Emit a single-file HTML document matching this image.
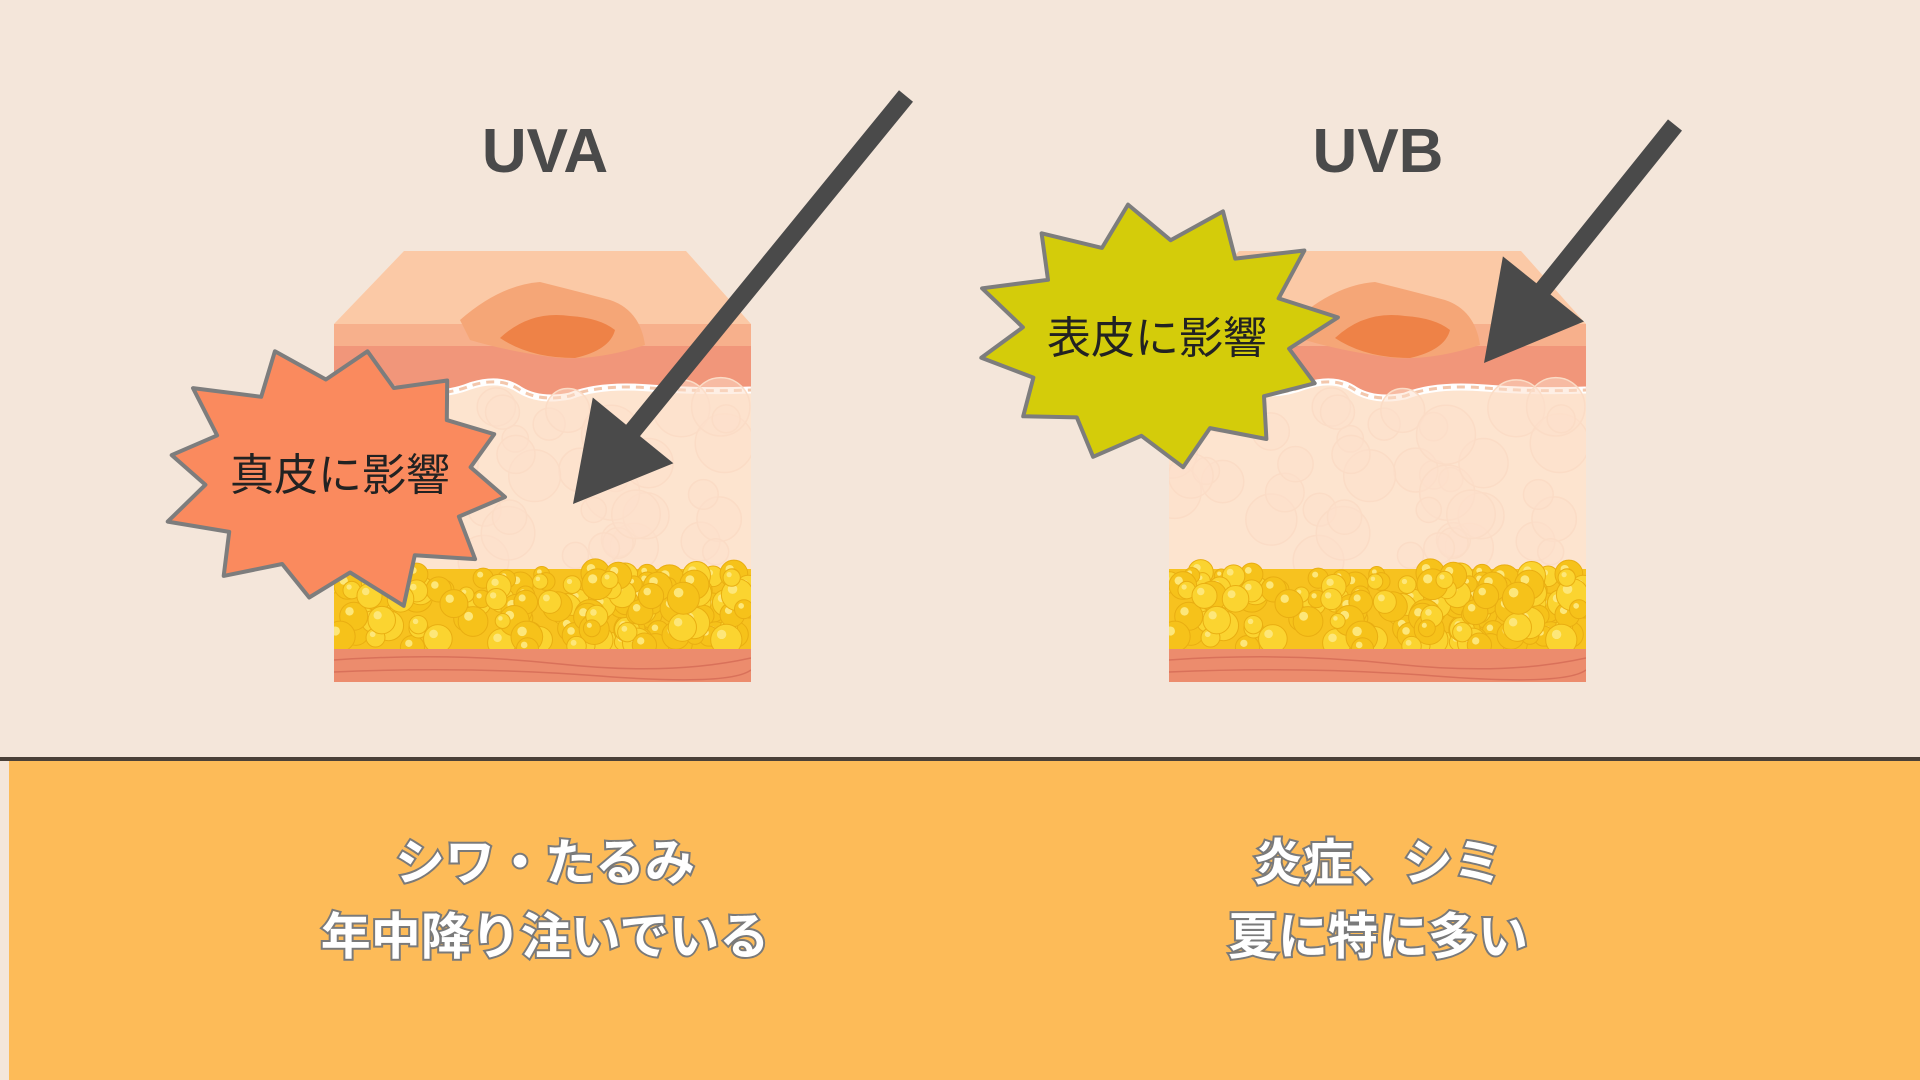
<!DOCTYPE html>
<html><head><meta charset="utf-8"><style>
html,body{margin:0;padding:0;background:#f4e6da;}
svg{display:block}
</style></head><body>
<svg id="s" width="1920" height="1080" viewBox="0 0 1920 1080" xmlns="http://www.w3.org/2000/svg">
<defs>
<clipPath id="bc"><path d="M404 251 L686 251 L751 324 L751 682 L334 682 L334 324 Z"/></clipPath>
<g id="block">
 <g clip-path="url(#bc)">
  <rect x="334" y="251" width="417" height="431" fill="#fde4cf"/>
  <path d="M334 251 H751 V326 H334Z" fill="#fbc9a6"/>
  <path d="M334 324 H751 V346 H334Z" fill="#f7b08c"/>
  <path d="M334 346 H751 V390 Q700 392 650 388 Q600 384 570 396 Q540 402 520 390 Q500 376 470 386 Q440 398 400 390 Q370 384 334 388Z" fill="#f1967a"/>
  <path d="M334 388 Q370 384 400 390 Q440 398 470 386 Q500 376 520 390 Q540 402 570 396 Q600 384 650 388 Q700 392 751 390" fill="none" stroke="#fff" stroke-width="7"/>
  <path d="M334 388 Q370 384 400 390 Q440 398 470 386 Q500 376 520 390 Q540 402 570 396 Q600 384 650 388 Q700 392 751 390" fill="none" stroke="#f3c7ac" stroke-width="3" stroke-dasharray="8 6"/>
  <path d="M460 320 Q500 285 540 282 Q580 292 610 300 Q640 310 645 345 Q600 360 560 358 Q510 352 470 340Z" fill="#f5a677"/>
  <path d="M500 338 Q530 310 570 316 Q600 318 615 330 Q610 350 575 358 Q530 358 500 338Z" fill="#ee8247"/>
  <g id="cells" fill="#fde0cb" fill-opacity="0.5" stroke="#fbdcc6" stroke-width="1.5"></g>
  <rect x="334" y="569" width="417" height="80" fill="#f7c21f"/>
  <g id="fat"></g>
  <rect x="334" y="649" width="417" height="33" fill="#ec8c6d"/>
  <path d="M334 660 Q450 652 560 664 T751 658 M334 672 Q470 666 600 676 T751 670" fill="none" stroke="#d9715a" stroke-width="1.5"/>
 </g>
</g>
</defs>
<rect width="1920" height="757" fill="#f4e6da"/>
<rect x="0" y="757" width="1920" height="4" fill="#4a4038"/>
<rect x="0" y="761" width="1920" height="319" fill="#fdbb58"/>
<rect x="0" y="761" width="9" height="319" fill="#f4e6da"/>

<text x="545" y="172" text-anchor="middle" font-family="Liberation Sans, sans-serif" font-weight="bold" font-size="62" fill="#4a4a4a">UVA</text>
<text x="1378" y="172" text-anchor="middle" font-family="Liberation Sans, sans-serif" font-weight="bold" font-size="62" fill="#4a4a4a">UVB</text>

<use href="#block"/>
<use href="#block" transform="translate(835 0)"/>

<g id="arrows" fill="#4a4a4a" stroke="none"></g>

<polygon id="b1" fill="#fa8a5e" stroke="#7d7d7d" stroke-width="4" stroke-linejoin="round"/>
<polygon id="b2" fill="#d4cc0a" stroke="#7d7d7d" stroke-width="4" stroke-linejoin="round"/>
<text x="340" y="490" text-anchor="middle" font-family="Liberation Sans, 'Noto Sans CJK JP', sans-serif" font-size="44" fill="#222">真皮に影響</text>
<text x="1157" y="353" text-anchor="middle" font-family="Liberation Sans, 'Noto Sans CJK JP', sans-serif" font-size="44" fill="#222">表皮に影響</text>

<g font-family="Liberation Sans, 'Noto Sans CJK JP', sans-serif" font-weight="bold" font-size="50" fill="#fff" stroke="#7a7a7a" stroke-width="4" paint-order="stroke" text-anchor="middle">
<text x="545" y="880">シワ・たるみ</text>
<text x="545" y="954">年中降り注いでいる</text>
<text x="1378" y="880">炎症、シミ</text>
<text x="1378" y="954">夏に特に多い</text>
</g>
</svg>
<script>
var NS="http://www.w3.org/2000/svg";
var seed=7;function r(){seed=(seed*16807)%2147483647;return seed/2147483647;}
var fat=document.getElementById("fat");
for(var i=0;i<170;i++){var c=document.createElementNS(NS,"circle");var x=334+r()*417,y=572+r()*78,rad=7+r()*9;
c.setAttribute("cx",x);c.setAttribute("cy",y);c.setAttribute("r",rad);c.setAttribute("fill",r()<.5?"#fbd430":"#f6c21a");c.setAttribute("stroke","#e9ae12");c.setAttribute("stroke-width","1");fat.appendChild(c);
var h=document.createElementNS(NS,"circle");h.setAttribute("cx",x-rad*.3);h.setAttribute("cy",y-rad*.35);h.setAttribute("r",rad*.3);h.setAttribute("fill","#fde77a");fat.appendChild(h);}
var cells=document.getElementById("cells");
for(var i=0;i<45;i++){var c=document.createElementNS(NS,"circle");c.setAttribute("cx",334+r()*417);c.setAttribute("cy",405+r()*160);c.setAttribute("r",12+r()*18);cells.appendChild(c);}
function star(id,cx,cy,rx,ry,n,k,rot){var p=[];for(var i=0;i<2*n;i++){var a=rot+i*Math.PI/n;var f=i%2?k:1;f*=(i%2?1:(0.92+r()*0.14));p.push((cx+Math.cos(a)*rx*f).toFixed(1)+","+(cy+Math.sin(a)*ry*f).toFixed(1));}document.getElementById(id).setAttribute("points",p.join(" "));}
star("b1",338,476,180,131,12,0.74,-1.4);
star("b2",1156,338,181,133,12,0.74,-1.2);
function arrow(x1,y1,x2,y2){var dx=x2-x1,dy=y2-y1,L=Math.hypot(dx,dy),ux=dx/L,uy=dy/L,nx=-uy,ny=ux,w=9,H=95,hw=52;
var bx=x2-ux*H,by=y2-uy*H;var pts=[[x1+nx*w,y1+ny*w],[bx+nx*w,by+ny*w],[bx+nx*hw,by+ny*hw],[x2,y2],[bx-nx*hw,by-ny*hw],[bx-nx*w,by-ny*w],[x1-nx*w,y1-ny*w]];
var p=document.createElementNS(NS,"polygon");p.setAttribute("points",pts.map(function(q){return q[0].toFixed(1)+","+q[1].toFixed(1)}).join(" "));document.getElementById("arrows").appendChild(p);}
arrow(906,96,573,504);
arrow(1675,125,1484,363);
</script>
</body></html>
